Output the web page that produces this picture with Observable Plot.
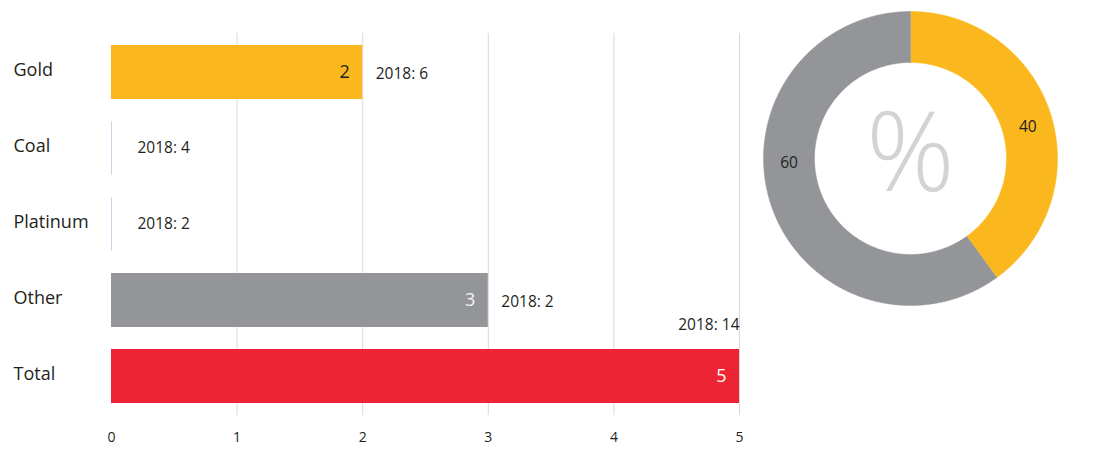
<!DOCTYPE html>
<html>
<head>
<meta charset="utf-8">
<script src="https://cdn.jsdelivr.net/npm/d3@7"></script>
<script src="https://cdn.jsdelivr.net/npm/@observablehq/plot@0.6"></script>
<style>
  html, body { margin: 0; padding: 0; background: #ffffff; }
  #wrap { position: relative; width: 1113px; height: 454px; overflow: hidden; font-family: "Open Sans", sans-serif; }
  #bars { position: absolute; left: 0; top: 0; }
  #donut { position: absolute; left: 750px; top: 0; }
</style>
</head>
<body>
<div id="wrap"><div id="bars"></div><div id="donut"></div></div>
<script>
// ---- data ----
const categories = ["Gold", "Coal", "Platinum", "Other", "Total"];
const values2019 = [2, 0, 0, 3, 5];
const values2018 = [6, 4, 2, 2, 14];
const xTicks = [0, 1, 2, 3, 4, 5];
const shareCategories = ["Gold", "Other"];
const shareValues = [40, 60];

// ---- styles ----
const GOLD = "#fbb81e", GREY = "#939598", RED = "#ed2433", INK = "#231f20";
const barFill = {Gold: GOLD, Coal: GOLD, Platinum: GOLD, Other: GREY, Total: RED};
const insideFill = {Gold: INK, Other: "#f2f2f2", Total: "#ffffff"};
const FONT = "Open Sans, sans-serif";

const rows = categories.map((c, i) => ({cat: c, value: values2019[i], prev: values2018[i]}));
const regular = rows.filter(d => d.cat !== "Total");

const bars = Plot.plot({
  width: 760, height: 454,
  marginLeft: 111, marginRight: 21, marginTop: 21.5, marginBottom: 27.5,
  style: {fontFamily: FONT, color: INK, background: "transparent"},
  x: {domain: [0, 5], axis: null, label: null},
  y: {domain: categories, padding: 0.294, axis: null},
  marks: [
    Plot.ruleX(xTicks.filter(t => t > 0), {stroke: "#d9d9db", strokeWidth: 1, insetTop: 11.5, insetBottom: 11.5}),
    Plot.tickX(rows.filter(d => d.value === 0), {x: "value", y: "cat", stroke: "#c9d5e8", strokeWidth: 1}),
    Plot.barX(rows, {x: "value", y: "cat", fill: d => barFill[d.cat]}),
    Plot.text(rows.filter(d => d.value > 0), {
      x: "value", y: "cat", text: d => String(d.value), textAnchor: "end", dx: -13,
      fill: d => insideFill[d.cat], fontSize: 18
    }),
    Plot.text(regular.filter(d => d.value > 0), {
      x: "value", y: "cat", text: d => `2018: ${d.prev}`, textAnchor: "start", dx: 13, dy: 2,
      fill: INK, fontSize: 15.5
    }),
    Plot.text(regular.filter(d => d.value === 0), {
      x: "value", y: "cat", text: d => `2018: ${d.prev}`, textAnchor: "start", dx: 26, dy: 0,
      fill: INK, fontSize: 15.5
    }),
    Plot.text(rows.filter(d => d.cat === "Total"), {
      x: "value", y: "cat", text: d => `2018: ${d.prev}`, textAnchor: "end", dy: -51,
      fill: INK, fontSize: 15.5
    }),
    Plot.text(rows, {
      y: "cat", text: "cat", frameAnchor: "left", textAnchor: "start", dx: -98, dy: -2,
      fill: INK, fontSize: 18
    }),
    Plot.text(xTicks, {
      x: d => d, frameAnchor: "bottom", text: d => String(d), dy: 11, lineAnchor: "middle",
      fill: INK, fontSize: 14
    })
  ]
});
document.getElementById("bars").appendChild(bars);

// ---- donut ----
const total = d3.sum(shareValues);
const R_IN = 96 / 147;
const labelAngles = {Gold: 75, Other: 268}; // label placement (degrees clockwise from top)
const polys = [];
const labels = [];
let acc = 0;
shareCategories.forEach((c, i) => {
  const a0 = acc / total * 360, a1 = (acc + shareValues[i]) / total * 360;
  acc += shareValues[i];
  const pts = [];
  const n = Math.max(2, Math.ceil(a1 - a0) * 2);
  for (let k = 0; k <= n; k++) {
    const a = (a0 + (a1 - a0) * k / n) * Math.PI / 180;
    pts.push({key: c, x: Math.sin(a), y: Math.cos(a)});
  }
  for (let k = n; k >= 0; k--) {
    const a = (a0 + (a1 - a0) * k / n) * Math.PI / 180;
    pts.push({key: c, x: R_IN * Math.sin(a), y: R_IN * Math.cos(a)});
  }
  polys.push(...pts);
  const la = (labelAngles[c] ?? (a0 + a1) / 2) * Math.PI / 180;
  const rm = (1 + R_IN) / 2;
  labels.push({key: c, x: rm * Math.sin(la), y: rm * Math.cos(la), text: String(shareValues[i])});
});

const CX = 160, CY = 158, RO = 147;
const donut = Plot.plot({
  width: 363, height: 320,
  margin: 0,
  style: {fontFamily: FONT, background: "transparent"},
  x: {domain: [-1, 1], range: [CX - RO, CX + RO], axis: null},
  y: {domain: [-1, 1], range: [CY + RO, CY - RO], axis: null},
  color: {domain: ["Gold", "Other"], range: [GOLD, GREY]},
  marks: [
    Plot.line(polys, {x: "x", y: "y", z: "key", fill: "key", stroke: "key", strokeWidth: 0.5}),
    Plot.text(labels, {x: "x", y: "y", text: "text", fill: INK, fontSize: 15.5}),
    Plot.text(["%"], {x: () => 0, y: () => 0, text: d => d, fill: "#d1d3d4", fontSize: 110, fontWeight: 300, dy: -3})
  ]
});
document.getElementById("donut").appendChild(donut);
</script>
</body>
</html>
